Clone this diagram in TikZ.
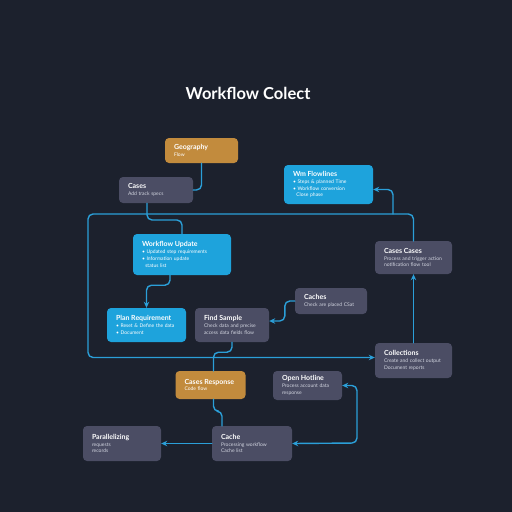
\documentclass[tikz,border=0pt]{standalone}
\usepackage{fontspec}
\usetikzlibrary{arrows.meta}
\setmainfont{Lato}
\definecolor{bg}{HTML}{1C212D}
\definecolor{cardblue}{HTML}{1EA3DC}
\definecolor{cardgray}{HTML}{4B4D64}
\definecolor{cardorange}{HTML}{C28B3D}
\definecolor{linkblue}{HTML}{2B9FD8}
\definecolor{bodygray}{HTML}{D2D5E0}
\newcommand{\hd}[1]{{\fontsize{7}{8.8}\selectfont\bfseries\color{white}#1}\\}
\tikzset{
  card/.style={rounded corners=4pt, inner xsep=9pt, inner ysep=3pt, align=left,
    font=\fontsize{5}{6.8}\selectfont, text=bodygray},
  dims/.style 2 args={minimum width=#1, minimum height=#2, text width=#1-18},
  bluecard/.style={card, fill=cardblue, text=white},
  graycard/.style={card, fill=cardgray},
  orangecard/.style={card, fill=cardorange, text=white},
  link/.style={draw=linkblue, line width=1.4pt, rounded corners=5pt}
}
\begin{document}
\begin{tikzpicture}[>={Stealth[length=6pt,width=5.5pt]},line join=round,line cap=round,x=1pt,y=-1pt]
\useasboundingbox (0,0) rectangle (512,512);
\fill[bg] (0,0) rectangle (512,512);
\node[text=white,font=\fontsize{16.5}{18}\selectfont\bfseries] (title) at (248,93) {Workflow Colect};
% cards
\node[orangecard,dims={73}{25}] (geo) at (201.5,150.5) {\hd{Geography}Flow};
\node[graycard,dims={74}{26}] (cases) at (156,190) {\hd{Cases}Add track specs};
\node[bluecard,dims={89}{39}] (wmflow) at (328.5,184.5) {\hd{Wm Flowlines}• Steps \& planned Time\\• Workflow conversion\\\ \ Close phase};
\node[bluecard,dims={98}{41}] (update) at (182,254.5) {\hd{Workflow Update}• Updated step requirements\\• Information update\\\ \ status list};
\node[graycard,dims={77}{33}] (casescases) at (413.5,257.5) {\hd{Cases Cases}Process and trigger action\\notification flow tool};
\node[bluecard,dims={79}{34}] (plan) at (146.5,325) {\hd{Plan Requirement}• Reset \& Define the data\\• Document};
\node[graycard,dims={74}{34}] (find) at (232,325) {\hd{Find Sample}Check data and precise\\access data fields flow};
\node[graycard,dims={72}{26}] (caches) at (331,301) {\hd{Caches}Check are placed CSat};
\node[graycard,dims={77}{35}] (collect) at (413.5,360.5) {\hd{Collections}Create and collect output\\Document reports};
\node[orangecard,dims={70}{28}] (resp) at (210.5,385) {\hd{Cases Response}Code flow};
\node[graycard,dims={69}{29}] (hotline) at (307.5,385.5) {\hd{Open Hotline}Process account data\\response};
\node[graycard,dims={78}{35}] (para) at (122,443.5) {\hd{Parallelizing}requests\\records};
\node[graycard,dims={80}{35}] (cache) at (252,443.5) {\hd{Cache}Processing workflow\\Cache list};
% links
\coordinate (loopl) at (88,214);
\coordinate (loopr) at (393,214);
\coordinate (rdrop) at (357,443);
\draw[link] (geo.south) |- (cases.east);
\draw[link] ([xshift=-9]cases.south) |- (182,220) -- (update.north);
\draw[link,->] (casescases.north) |- (loopl) |- ([yshift=3]collect.west);
\draw[link,->] (loopr) |- ([yshift=-5]wmflow.east);
\draw[link,->] (collect.north) -- (casescases.south);
\draw[link,->] ([xshift=-12]update.south) -- ++(0,10) -| (plan.north);
\draw[link,->] (caches.west) -- ++(-10,0) |- ([yshift=4]find.east);
\draw[link] (find.south) -- ++(0,10) -| ([xshift=3]resp.north);
\draw[link] ([xshift=3]resp.south) -- ++(0,12) -| ([xshift=-30]cache.north);
\draw[link,->] (cache.west) -- (para.east);
\draw[link,<->] (hotline.east) -| (rdrop) -- (cache.east);
\end{tikzpicture}
\end{document}
